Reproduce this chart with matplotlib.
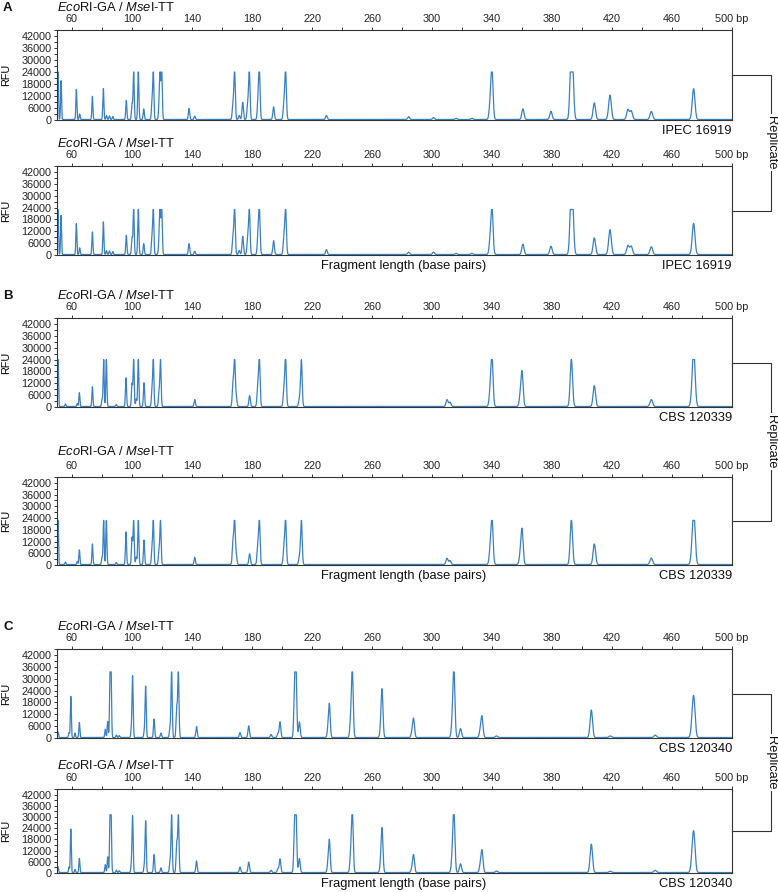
"""
AFLP electropherograms, EcoRI-GA / MseI-TT, three isolates in replicate.
Traces are drawn from the peak tables below (fragment size in bp, height in RFU).
"""

import numpy as np
import matplotlib.pyplot as plt
from matplotlib.ticker import FixedLocator, MultipleLocator

plt.rcParams['font.family'] = ['Liberation Sans', 'DejaVu Sans']
plt.rcParams['mathtext.fontset'] = 'custom'
plt.rcParams['mathtext.rm'] = 'Liberation Sans'
plt.rcParams['mathtext.it'] = 'Liberation Sans:italic'

# ── Peak tables ────────────────────────────────────────────────────────────────
A1_BP = [50.7, 52.7, 62.9, 65.1, 73.6, 80.9, 83.0, 85.0, 87.2, 96.2, 100.0, 101.1,
         104.2, 107.8, 113.3, 114.2, 118.0, 118.7, 119.8, 138.0, 141.8, 167.3,
         168.4, 171.5, 173.8, 177.1, 178.2, 184.0, 184.9, 194.4, 201.3, 202.4,
         229.6, 284.4, 301.0, 316.0, 326.6, 338.8, 340.0, 360.6, 379.3, 392.6,
         393.7, 408.2, 418.0, 418.8, 430.6, 432.8, 446.2, 474.4]
A1_RFU = [24000, 19400, 15000, 2800, 11600, 15400, 2000, 1800, 1500, 9600, 7800, 24000,
          24000, 5300, 7800, 24000, 5300, 24000, 24000, 5500, 1700, 7500,
          24000, 2000, 8600, 7000, 24000, 8600, 24000, 6300, 7800, 24000,
          2000, 1400, 1000, 600, 600, 7000, 24000, 5300, 4100, 24000,
          24000, 8300, 2500, 10500, 5000, 4300, 4000, 15400]
A1_MAX = 24000

A2_BP = A1_BP
A2_RFU = [22700, 19800, 15600, 3400, 11400, 16500, 2000, 1800, 1500, 9700, 8400, 23000,
          23000, 5500, 8400, 23000, 5900, 23000, 23000, 5500, 1700, 8400,
          23000, 2000, 9200, 7600, 23000, 9200, 23000, 7000, 8000, 23000,
          2500, 1200, 1200, 600, 600, 6500, 23000, 5200, 4200, 23000,
          23000, 8400, 2500, 10900, 4500, 4200, 3900, 15800]
A2_MAX = 23000

B1_BP = [50.7, 55.6, 63.5, 64.9, 73.6, 80.0, 81.1, 82.9, 89.5, 96.0, 100.0, 101.1,
         102.8, 104.2, 108.0, 113.3, 114.2, 118.0, 119.0, 141.8, 167.3, 168.4,
         169.5, 178.4, 183.8, 184.9, 201.3, 202.4, 211.6, 212.9, 310.0, 312.0,
         338.8, 340.0, 358.8, 360.0, 392.9, 408.2, 446.2, 473.7, 474.6]
B1_RFU = [24000, 1300, 1500, 7000, 10000, 3800, 24000, 24000, 1000, 14500, 11500, 24000,
          3800, 24000, 12000, 7200, 24000, 7200, 24000, 3500, 11000, 24000,
          4500, 5500, 8800, 24000, 8000, 24000, 3700, 23500, 3500, 2200,
          7000, 24000, 4000, 17000, 24000, 10500, 3500, 7000, 24000]
B1_MAX = 24000

B2_BP = B1_BP
B2_RFU = [22800, 1300, 1600, 7500, 10500, 3800, 22800, 22800, 1000, 16700, 13700, 22800,
          3800, 22800, 12500, 7200, 22800, 7200, 22800, 3700, 11200, 22800,
          4500, 5500, 8800, 22800, 8000, 22800, 3700, 22800, 3200, 2000,
          6500, 22800, 3800, 17500, 22800, 10500, 3300, 7000, 22800]
B2_MAX = 22800

C1_BP = [50.7, 58.0, 59.2, 62.0, 64.9, 82.2, 83.8, 85.4, 86.0, 89.6, 91.5, 99.6,
         100.4, 108.2, 109.1, 114.7, 119.3, 125.3, 126.4, 129.8, 130.9, 143.0,
         172.0, 177.8, 192.7, 197.3, 198.7, 208.4, 209.3, 211.6, 230.7, 231.6,
         245.8, 246.9, 265.8, 266.7, 286.6, 287.7, 313.5, 314.6, 319.0, 332.2,
         333.3, 343.0, 406.2, 418.8, 448.8, 473.7, 474.6]
C1_RFU = [2800, 2500, 20800, 2200, 7600, 4200, 8100, 33400, 33400, 1300, 1000, 4200,
          30900, 2900, 25800, 9300, 2200, 4500, 33400, 15200, 33400, 5600,
          2500, 5900, 1500, 2000, 7900, 22800, 33400, 7900, 4200, 16000,
          8400, 33400, 3900, 23300, 2200, 9300, 6200, 33600, 4500, 2900,
          10100, 800, 13900, 800, 1200, 7100, 16400]
C1_MAX = 33400

C2_BP = C1_BP
C2_RFU = [3000, 3000, 23300, 1700, 7600, 4200, 8400, 31200, 31200, 1300, 1000, 4200,
          30000, 3400, 27500, 9600, 2500, 5100, 31200, 16000, 31200, 6200,
          2900, 5600, 1200, 2000, 7300, 22800, 31200, 7600, 4600, 16400,
          8800, 31600, 3700, 22800, 1700, 9300, 6800, 31600, 4700, 3000,
          11300, 800, 15200, 700, 1200, 7600, 17200]
C2_MAX = 31200

SAMPLES = ['IPEC 16919', 'CBS 120339', 'CBS 120340']
PANELS = ['A', 'B', 'C']
TITLE = r'$\mathit{Eco}$RI-GA / $\mathit{Mse}$I-TT'

# ── Layout (pixel positions in a 778 x 892 canvas) ─────────────────────────────
W, H = 778, 892
AX_LEFT, AX_RIGHT = 57, 732
AX_ROWS = [(30, 120), (166, 255), (318, 407), (477, 565), (649, 738), (789, 873)]
TITLE_GAP = [16, 16, 16, 19, 16, 17]
LINE_COL = '#3a80c4'
BP_GRID = np.linspace(50, 500, 9000)


def trace(bp, rfu, cap):
    y = np.full_like(BP_GRID, 250.0)
    for b, h in zip(bp, rfu):
        s = 0.24 + 0.0014 * b
        y += h * np.exp(-0.5 * ((BP_GRID - b) / s) ** 2)
    return np.minimum(y, cap)


TRACES = [(A1_BP, A1_RFU, A1_MAX), (A2_BP, A2_RFU, A2_MAX),
          (B1_BP, B1_RFU, B1_MAX), (B2_BP, B2_RFU, B2_MAX),
          (C1_BP, C1_RFU, C1_MAX), (C2_BP, C2_RFU, C2_MAX)]

fig = plt.figure(figsize=(W / 100, H / 100), dpi=100)
fig.patch.set_facecolor('white')


def fx(px):
    return px / W


def fy(py):
    return 1 - py / H


for i, ((top, bot), (bp, rfu, cap)) in enumerate(zip(AX_ROWS, TRACES)):
    ax = fig.add_axes([fx(AX_LEFT), fy(bot), (AX_RIGHT - AX_LEFT) / W, (bot - top) / H])
    ax.plot(BP_GRID, trace(bp, rfu, cap), color=LINE_COL, linewidth=0.9)
    ax.set_xlim(50, 500)

    ax.xaxis.tick_top()
    ax.xaxis.set_major_locator(FixedLocator(np.arange(60, 501, 40)))
    ax.xaxis.set_minor_locator(FixedLocator(np.arange(80, 481, 40)))
    ax.set_xticklabels([str(v) for v in range(60, 461, 40)] + ['500 bp'])
    ax.set_yticks(np.arange(0, 42001, 6000))
    ax.yaxis.set_minor_locator(MultipleLocator(3000))
    ax.set_ylim(0, 45000)
    ax.tick_params(axis='both', which='both', direction='out', length=2.5,
                   width=0.7, colors='#333', labelsize=7.8, pad=1.5)
    ax.tick_params(axis='both', labelcolor='#222')
    for sp in ax.spines.values():
        sp.set_color('#333')
        sp.set_linewidth(0.8)

    ax.set_ylabel('RFU', fontsize=7.8)
    ax.yaxis.set_label_coords(-0.068, 0.5)
    ax.text(0, 1 + TITLE_GAP[i] / (bot - top), TITLE, transform=ax.transAxes,
            ha='left', va='bottom', fontsize=9.3, color='#111')

    sample = SAMPLES[i // 2]
    fig.text(fx(AX_RIGHT), fy(bot + 11), sample, ha='right', va='center',
             fontsize=9.3, color='#111')
    if i % 2 == 1:
        fig.text(fx(404), fy(bot + 11), 'Fragment length (base pairs)',
                 ha='center', va='center', fontsize=9.3, color='#111')
    else:
        fig.text(fx(3), fy(top - 22), PANELS[i // 2], ha='left', va='center',
                 fontsize=9.5, fontweight='bold', color='#111')

# ── Replicate brackets ─────────────────────────────────────────────────────────
BR_X = 771
for k in range(3):
    t1, b1 = AX_ROWS[2 * k]
    t2, b2 = AX_ROWS[2 * k + 1]
    y1, y2 = (t1 + b1) / 2, (t2 + b2) / 2
    fig.add_artist(plt.Line2D([fx(AX_RIGHT), fx(BR_X), fx(BR_X), fx(AX_RIGHT)],
                              [fy(y1), fy(y1), fy(y2), fy(y2)],
                              color='#333', linewidth=0.8))
    fig.text(fx(BR_X), fy((y1 + y2) / 2), 'Replicate', rotation=270,
             ha='center', va='center', fontsize=9.3, color='#111',
             bbox=dict(boxstyle='square,pad=0.15', facecolor='white',
                       edgecolor='none'))

plt.savefig('out.png', dpi=100, facecolor='white')
